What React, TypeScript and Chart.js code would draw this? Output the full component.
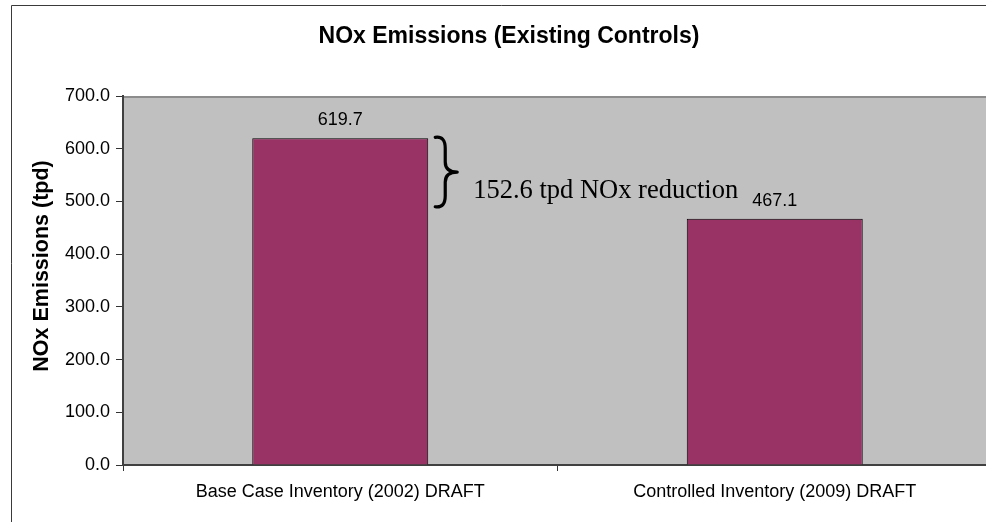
import { useEffect, useRef } from 'react';
import { Chart, registerables } from 'chart.js';

Chart.register(...registerables);

const categories = ['Base Case Inventory (2002) DRAFT', 'Controlled Inventory (2009) DRAFT'];
const emissions = [619.7, 467.1];
const yMin = 0;
const yMax = 700;
const yStep = 100;
const chartTitle = 'NOx Emissions (Existing Controls)';
const yAxisTitle = 'NOx Emissions (tpd)';
const reductionLabel = '152.6 tpd NOx reduction';

const SANS = '"Liberation Sans", Arial, sans-serif';
const SERIF = '"Liberation Serif", "Times New Roman", serif';

const decorPlugin = {
  id: 'decor',
  beforeDraw(chart: any) {
    const { ctx, chartArea, width, height } = chart;
    ctx.save();
    ctx.fillStyle = '#ffffff';
    ctx.fillRect(0, 0, width, height);
    // outer frame (left and top visible)
    ctx.strokeStyle = '#3a3a3a';
    ctx.lineWidth = 1;
    ctx.beginPath();
    ctx.moveTo(11.5, height);
    ctx.lineTo(11.5, 5.5);
    ctx.lineTo(width, 5.5);
    ctx.stroke();
    // plot area
    ctx.fillStyle = '#c0c0c0';
    ctx.fillRect(chartArea.left, chartArea.top, chartArea.right - chartArea.left, chartArea.bottom - chartArea.top);
    ctx.fillStyle = '#8c8c8c';
    ctx.fillRect(chartArea.left, chartArea.top, chartArea.right - chartArea.left, 2);
    ctx.restore();
  },
  afterDatasetsDraw(chart: any) {
    const { ctx } = chart;
    const meta = chart.getDatasetMeta(0);
    const yScale = chart.scales.y;
    ctx.save();
    ctx.fillStyle = '#000000';
    ctx.font = `18px ${SANS}`;
    ctx.textAlign = 'center';
    ctx.textBaseline = 'middle';
    meta.data.forEach((bar: any, i: number) => {
      ctx.fillText(emissions[i].toFixed(1), bar.x, bar.y - 18);
    });

    // curly brace spanning the reduction
    const bar0 = meta.data[0];
    const right0 = bar0.x + bar0.width / 2;
    const top = yScale.getPixelForValue(emissions[0]) - 2;
    const bottom = yScale.getPixelForValue(emissions[1]) - 11;
    const mid = (top + bottom) / 2;
    const x0 = right0 + 7;
    const xm = x0 + 10;
    const xp = x0 + 22;
    ctx.strokeStyle = '#000000';
    ctx.lineCap = 'round';
    ctx.lineJoin = 'round';
    ctx.lineWidth = 3.2;
    ctx.beginPath();
    ctx.moveTo(x0, top + 1);
    ctx.bezierCurveTo(x0 + 7, top, xm, top + 4, xm, top + 12);
    ctx.lineTo(xm, mid - 10);
    ctx.bezierCurveTo(xm, mid - 3, xm + 5, mid, xp, mid);
    ctx.bezierCurveTo(xm + 5, mid, xm, mid + 3, xm, mid + 10);
    ctx.lineTo(xm, bottom - 12);
    ctx.bezierCurveTo(xm, bottom - 4, x0 + 7, bottom, x0, bottom - 1);
    ctx.stroke();

    ctx.textAlign = 'left';
    ctx.textBaseline = 'alphabetic';
    ctx.font = `26.5px ${SERIF}`;
    ctx.fillText(reductionLabel, right0 + 45, mid + 26);
    ctx.restore();
  },
  afterDraw(chart: any) {
    const { ctx } = chart;
    ctx.save();
    ctx.fillStyle = '#000000';
    ctx.textAlign = 'center';
    ctx.textBaseline = 'middle';
    ctx.font = `bold 23px ${SANS}`;
    ctx.fillText(chartTitle, 509, 37);
    ctx.translate(42, 266);
    ctx.rotate(-Math.PI / 2);
    ctx.font = `bold 21.5px ${SANS}`;
    ctx.fillText(yAxisTitle, 0, 0);
    ctx.restore();
  },
};

export default function App() {
  const ref = useRef<HTMLCanvasElement | null>(null);

  useEffect(() => {
    if (!ref.current) return;
    const chart = new Chart(ref.current, {
      type: 'bar',
      data: {
        labels: categories,
        datasets: [
          {
            data: emissions,
            backgroundColor: '#993366',
            borderColor: '#000000',
            borderWidth: 1,
            categoryPercentage: 1,
            barPercentage: 0.405,
          },
        ],
      },
      options: {
        responsive: false,
        animation: false,
        devicePixelRatio: 1,
        layout: { padding: { top: 96, left: 0, right: 0, bottom: 0 } },
        plugins: {
          legend: { display: false },
          title: { display: false },
          tooltip: { enabled: false },
        },
        scales: {
          x: {
            afterFit: (s: any) => {
              s.height = 57;
            },
            grid: {
              display: true,
              drawOnChartArea: false,
              drawTicks: true,
              tickLength: 6,
              tickColor: '#333333',
              tickWidth: 1,
              offset: true,
            },
            border: { display: true, color: '#404040', width: 2 },
            ticks: {
              color: '#000000',
              font: { family: SANS, size: 18 },
              padding: 10,
              maxRotation: 0,
              autoSkip: false,
            },
          },
          y: {
            min: yMin,
            max: yMax,
            afterFit: (s: any) => {
              s.width = 123;
            },
            grid: {
              display: true,
              drawOnChartArea: false,
              drawTicks: true,
              tickLength: 7,
              tickColor: '#333333',
              tickWidth: 1,
            },
            border: { display: true, color: '#404040', width: 2 },
            ticks: {
              stepSize: yStep,
              color: '#000000',
              font: { family: SANS, size: 18 },
              padding: 6,
              callback: (v: any) => Number(v).toFixed(1),
            },
          },
        },
      },
      plugins: [decorPlugin],
    });
    return () => chart.destroy();
  }, []);

  return (
    <div style={{ position: 'fixed', left: 0, top: 0, width: 986, height: 522, overflow: 'hidden' }}>
      <canvas ref={ref} width={992} height={522} style={{ display: 'block' }} />
    </div>
  );
}
